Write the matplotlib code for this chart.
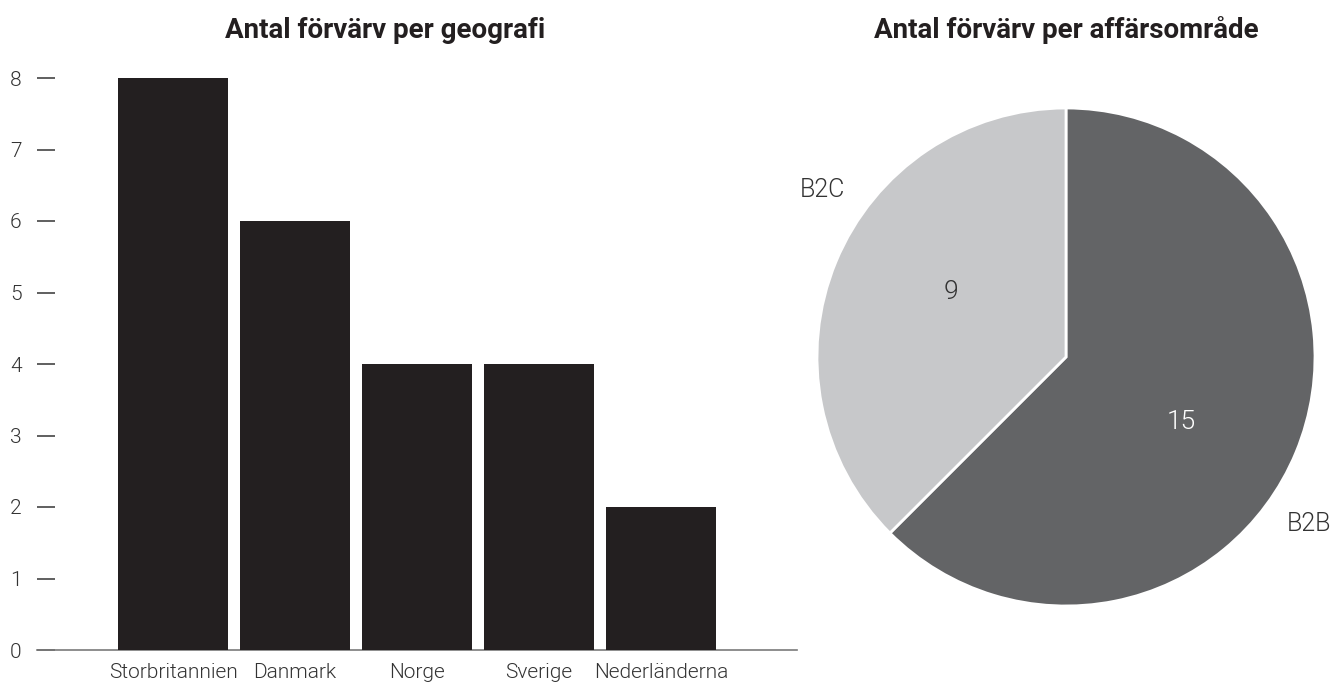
import matplotlib
matplotlib.use("Agg")
import matplotlib.pyplot as plt
import numpy as np

# Data
geo_categories = ["Storbritannien", "Danmark", "Norge", "Sverige", "Nederländerna"]
geo_values = [8, 6, 4, 4, 2]
y_ticks = [0, 1, 2, 3, 4, 5, 6, 7, 8]

area_labels = ["B2B", "B2C"]
area_values = [15, 9]

title_left = "Antal förvärv per geografi"
title_right = "Antal förvärv per affärsområde"

BAR_COLOR = "#231f20"
PIE_COLORS = ["#636466", "#c7c8ca"]
VALUE_COLORS = ["#ffffff", "#333333"]
TEXT_COLOR = "#333333"

plt.rcParams['font.family'] = ['Roboto', 'DejaVu Sans']

fig = plt.figure(figsize=(13.33, 6.84), dpi=100)

# Bar chart
ax = fig.add_axes([37/1333, 1-650/684, (797-37)/1333, (650-78)/684])
x = np.arange(len(geo_categories))
ax.bar(x, geo_values, width=0.9, color=BAR_COLOR, zorder=3)
ax.set_xlim(-1.115, len(geo_categories) - 1 + 1.115)
ax.set_ylim(0, 8)
for s in ["top", "right", "left"]:
    ax.spines[s].set_visible(False)
ax.spines["bottom"].set_color("#7a7a7a")
ax.spines["bottom"].set_linewidth(1.2)
ax.set_yticks(y_ticks)
ax.set_yticklabels([str(v) for v in y_ticks], fontsize=15, fontweight=300, color=TEXT_COLOR)
ax.tick_params(axis='y', direction='in', length=13, width=1.2, color="#444444", pad=11)
ax.set_xticks(x)
ax.set_xticklabels(geo_categories, fontsize=15, fontweight=300, color=TEXT_COLOR)
ax.tick_params(axis='x', length=0, pad=9)
for t in ax.get_yticklines():
    t.set_clip_on(False)

fig.text(385/1333, 1-38/684, title_left, ha='center', va='baseline',
         fontsize=20, fontweight='bold', color=BAR_COLOR)

# Pie chart
r_px = 249
half = 1.25
side = 2*half*r_px
cx, cy = 1066, 684-357
pax = fig.add_axes([(cx-side/2)/1333, (cy-side/2)/684, side/1333, side/684])
wedges, texts = pax.pie(
    area_values, colors=PIE_COLORS, startangle=90, counterclock=False,
    wedgeprops=dict(edgecolor="white", linewidth=2))
label_shift = -12.0
value_shift = -7.0
for w, lab, val, vc in zip(wedges, area_labels, area_values, VALUE_COLORS):
    mid_deg = (w.theta1 + w.theta2) / 2
    m = np.deg2rad(mid_deg + label_shift)
    pax.text(1.185*np.cos(m), 1.185*np.sin(m), lab, ha='center', va='center',
             fontsize=18, fontweight=300, color=TEXT_COLOR)
    v = np.deg2rad(mid_deg + value_shift)
    pax.text(0.53*np.cos(v), 0.53*np.sin(v), str(val), ha='center', va='center',
             fontsize=19, fontweight=300, color=vc)
pax.set_xlim(-half, half)
pax.set_ylim(-half, half)
pax.set_aspect('equal')
pax.axis('off')

fig.text(cx/1333, 1-38/684, title_right, ha='center', va='baseline',
         fontsize=20, fontweight='bold', color=BAR_COLOR)

fig.savefig("out.png", dpi=100)
